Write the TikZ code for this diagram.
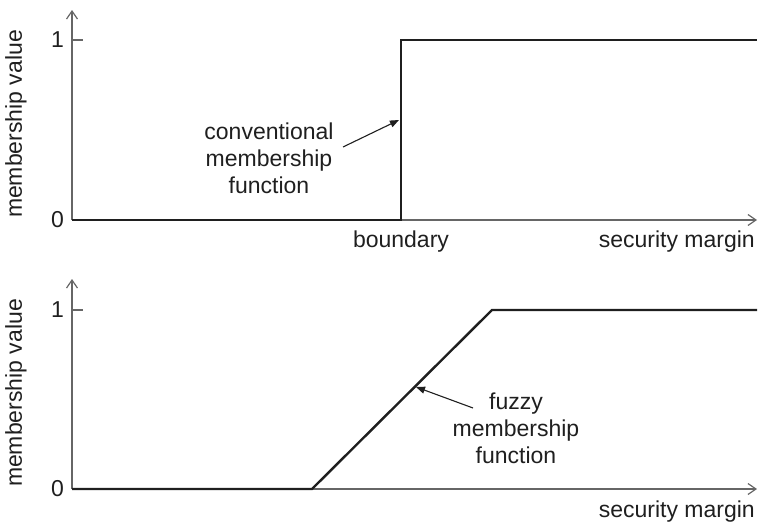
\documentclass[tikz,border=0pt]{standalone}
\usepackage{fontspec}
\setmainfont{Liberation Sans}
\usetikzlibrary{arrows.meta}
\definecolor{axisgray}{gray}{0.4}
\definecolor{curveblack}{gray}{0.12}
\begin{document}
\begin{tikzpicture}[x=1pt,y=-1pt,
  axis/.style={draw=axisgray,line width=1.4pt,-{Straight Barb[length=8pt,width=11pt,line width=1.2pt]}},
  tickline/.style={draw=axisgray,line width=1.4pt},
  curve/.style={draw=curveblack,line width=2.4pt,line join=miter},
  pointer/.style={draw=curveblack,line width=1.1pt,-{Triangle[length=9pt,width=7pt]}},
  lbl/.style={font=\fontsize{23}{27}\selectfont,text=curveblack,inner sep=0pt},
  note/.style={lbl,align=center}]
\useasboundingbox (0,0) rectangle (758,525);

% ---- conventional (crisp) membership ----
\coordinate (oA) at (72,220);
\coordinate (yA) at (72,10);
\coordinate (xA) at (757,220);
\coordinate (tA) at (83,40);
\coordinate (tA0) at (72,40);
\coordinate (stepLow) at (401,220);
\coordinate (stepHigh) at (401,40);
\coordinate (endA) at (757,40);
\draw[axis] (oA) -- (yA);
\draw[axis] (oA) -- (xA);
\draw[tickline] (tA0) -- (tA);
\draw[curve] (oA) -- (stepLow) -- (stepHigh) -- (endA);
\node[lbl,anchor=east] (oneA) at (64,40) {1};
\node[lbl,anchor=east] (zeroA) at (64,220) {0};
\node[lbl,rotate=90] (yLabelA) at (16,124) {membership value};
\node[lbl] (boundary) at (401,242) {boundary};
\node[lbl,anchor=east] (xLabelA) at (755,242) {security margin};
\node[note] (crispNote) at (269,158) {conventional\\membership\\function};
\coordinate (crispTip) at (399,120);
\draw[pointer] (343,147) -- (crispTip);

% ---- fuzzy membership ----
\coordinate (oB) at (72,489);
\coordinate (yB) at (72,279);
\coordinate (xB) at (757,489);
\coordinate (tB) at (83,310);
\coordinate (tB0) at (72,310);
\coordinate (rampLow) at (312,489);
\coordinate (rampHigh) at (492,310);
\coordinate (endB) at (757,310);
\draw[axis] (oB) -- (yB);
\draw[axis] (oB) -- (xB);
\draw[tickline] (tB0) -- (tB);
\draw[curve] (oB) -- (rampLow) -- (rampHigh) -- (endB);
\node[lbl,anchor=east] (oneB) at (64,310) {1};
\node[lbl,anchor=east] (zeroB) at (64,489) {0};
\node[lbl,rotate=90] (yLabelB) at (16,393) {membership value};
\node[lbl,anchor=east] (xLabelB) at (755,512) {security margin};
\node[note] (fuzzyNote) at (516,428) {fuzzy\\membership\\function};
\coordinate (fuzzyTip) at (416,387);
\draw[pointer] (473,408) -- (fuzzyTip);
\end{tikzpicture}
\end{document}
